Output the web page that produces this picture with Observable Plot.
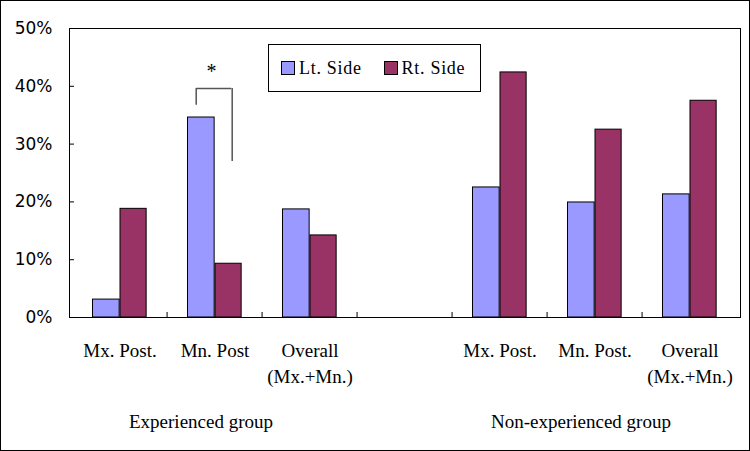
<!DOCTYPE html>
<html>
<head>
<meta charset="utf-8">
<script src="https://cdn.jsdelivr.net/npm/d3@7"></script>
<script src="https://cdn.jsdelivr.net/npm/@observablehq/plot@0.6"></script>
<style>
  html, body { margin: 0; padding: 0; background: #fff; color: #000; }
  #wrap { position: relative; width: 750px; height: 451px; overflow: hidden; }
  #border { position: absolute; left: 0; top: 0; width: 750px; height: 451px; box-sizing: border-box; border: 1px solid #000; pointer-events: none; }
  #legend { position: absolute; left: 268px; top: 44px; width: 213px; height: 48px; box-sizing: border-box;
            border: 1px solid #000; background: #fff; display: flex; align-items: center;
            font-family: "Liberation Serif", "Times New Roman", serif; font-size: 18px; letter-spacing: 0.7px; }
  .item { display: flex; align-items: center; }
  .sw { width: 12px; height: 12px; border: 1px solid #000; margin-right: 4px; }
</style>
</head>
<body>
<div id="wrap"></div>
<script>
// ---- data ----
const groups = ["Experienced group", "Non-experienced group"];
const expCategories = ["Mx. Post.", "Mn. Post", "Overall\n(Mx.+Mn.)"];
const nonExpCategories = ["Mx. Post.", "Mn. Post.", "Overall\n(Mx.+Mn.)"];
const series = ["Lt. Side", "Rt. Side"];
const seriesColors = ["#9999FF", "#993366"];
const expLt = [3.1, 34.6, 18.7];
const expRt = [18.8, 9.3, 14.2];
const nonExpLt = [22.5, 19.9, 21.3];
const nonExpRt = [42.4, 32.5, 37.5];
const yTicks = [0, 10, 20, 30, 40, 50];
// significance bracket (Experienced group, Mn. Post): leg bottoms, bracket top, star
const sigCategory = 1;
const sigLegBottoms = [36.7, 27.0];
const sigTop = 39.6;
const sigStarY = 42.6;
const sigLabel = "*";

// ---- layout ----
const W = 750, H = 451;
const mL = 69, mR = 10, mT = 28, mB = 134;
const nSlots = 7;
const bw = (W - mL - mR) / nSlots;
const plotH = H - mT - mB;

// slot keys: 3 experienced, gap, 3 non-experienced
const expKeys = expCategories.map((_, i) => "E" + i);
const nonKeys = nonExpCategories.map((_, i) => "N" + i);
const slots = [...expKeys, "gap", ...nonKeys];

const ltData = [
  ...expKeys.map((k, i) => ({key: k, value: expLt[i]})),
  ...nonKeys.map((k, i) => ({key: k, value: nonExpLt[i]}))
];
const rtData = [
  ...expKeys.map((k, i) => ({key: k, value: expRt[i]})),
  ...nonKeys.map((k, i) => ({key: k, value: nonExpRt[i]}))
];
const labelData = [
  ...expKeys.map((k, i) => ({key: k, label: expCategories[i]})),
  ...nonKeys.map((k, i) => ({key: k, label: nonExpCategories[i]}))
];
const groupData = [
  {key: expKeys[1], label: groups[0]},
  {key: nonKeys[1], label: groups[1]}
];
const sigKey = expKeys[sigCategory];
const serif = "Liberation Serif, Times New Roman, serif";

const chart = Plot.plot({
  width: W, height: H,
  marginLeft: mL, marginRight: mR, marginTop: mT, marginBottom: mB,
  style: {background: "transparent", color: "#000"},
  x: {domain: slots, padding: 0, axis: null},
  y: {domain: [0, 50], axis: null},
  marks: [
    Plot.barY(ltData, {x: "key", y: "value", fill: seriesColors[0], stroke: "#000", strokeWidth: 1,
      insetLeft: 20.5, insetRight: bw - 48}),
    Plot.barY(rtData, {x: "key", y: "value", fill: seriesColors[1], stroke: "#000", strokeWidth: 1,
      insetLeft: 48, insetRight: bw - 75}),
    Plot.frame({stroke: "#000", strokeWidth: 1}),
    // y tick marks (inward) and labels
    Plot.ruleY(yTicks, {y: d => d, stroke: "#000", insetRight: (W - mL - mR) - 5}),
    Plot.axisY(yTicks, {tickSize: 0, tickPadding: 17, tickFormat: d => d + "%", label: null,
      fontSize: 17, fontFamily: "DejaVu Sans, Verdana, sans-serif"}),
    // category boundary ticks on the baseline
    Plot.ruleX(slots.slice(1), {x: d => d, dx: -bw / 2, stroke: "#000", insetTop: plotH - 5}),
    // category labels
    Plot.text(labelData, {x: "key", text: "label", frameAnchor: "bottom", lineAnchor: "top",
      dy: 21, lineHeight: 1.37, fontSize: 19, fontFamily: serif, letterSpacing: 0.3}),
    // group labels
    Plot.text(groupData, {x: "key", text: "label", frameAnchor: "bottom", lineAnchor: "middle",
      dy: 104, dx: -14, fontSize: 19, fontFamily: serif, letterSpacing: 0.7}),
    // significance bracket
    Plot.ruleX([sigLegBottoms[0]], {x: () => sigKey, y1: d => d, y2: sigTop, dx: -18.8, stroke: "#555", strokeWidth: 1.5}),
    Plot.ruleX([sigLegBottoms[1]], {x: () => sigKey, y1: d => d, y2: sigTop, dx: 17.2, stroke: "#555", strokeWidth: 1.5}),
    Plot.tickY([sigTop], {x: () => sigKey, y: d => d, insetLeft: 29.1, insetRight: bw - 65.1, stroke: "#555", strokeWidth: 1.5}),
    Plot.text([sigStarY], {x: () => sigKey, y: d => d, text: () => sigLabel, dx: -3.5, fontSize: 20,
      fontFamily: serif})
  ]
});

const wrap = document.getElementById("wrap");
wrap.appendChild(chart);

// legend (inside the plot area, top centre)
const legend = document.createElement("div");
legend.id = "legend";
series.forEach((name, i) => {
  const item = document.createElement("div");
  item.className = "item";
  item.style.marginLeft = i === 0 ? "12px" : "22px";
  const sw = document.createElement("div");
  sw.className = "sw";
  sw.style.background = seriesColors[i];
  const t = document.createElement("span");
  t.textContent = name;
  item.appendChild(sw);
  item.appendChild(t);
  legend.appendChild(item);
});
wrap.appendChild(legend);

const border = document.createElement("div");
border.id = "border";
wrap.appendChild(border);
</script>
</body>
</html>
